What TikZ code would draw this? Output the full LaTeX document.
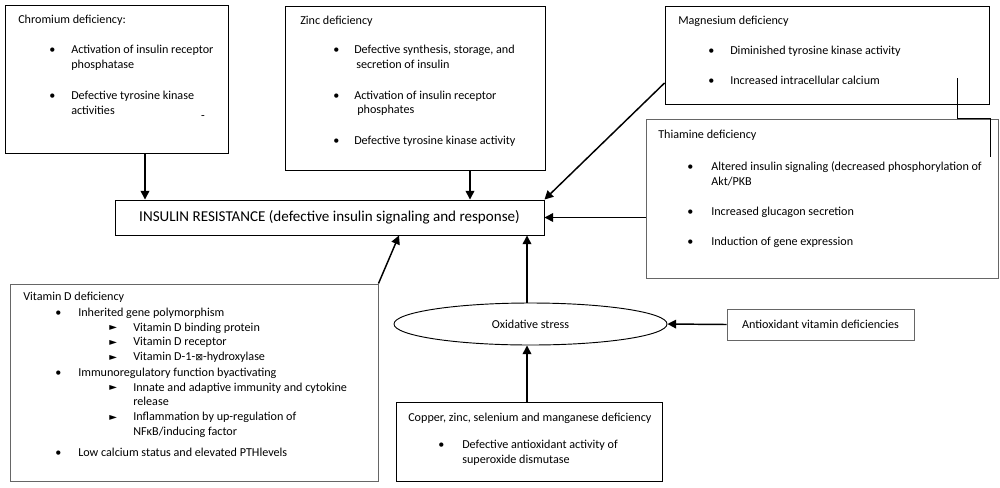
\documentclass[tikz,border=0pt]{standalone}
\usepackage{fontspec}
\setmainfont{Carlito}
\newfontfamily\trifont{DejaVu Sans}
\usetikzlibrary{shapes.geometric,arrows.meta,fit}
\newdimen\px \px=0.75pt
\newcommand{\tribullet}{{\trifont\fontsize{7.5}{8}\selectfont\raisebox{0.2pt}{►}}}
\newcommand{\boxhead}[2]{\multicolumn{#1}{@{}l@{}}{#2}}
\tikzset{
	box/.style={draw,inner sep=0pt,line width=0.7pt},
	greybox/.style={box,draw=black!60},
	txt/.style={anchor=base west,inner sep=0pt},
	arr/.style={-{Triangle[length=6.5pt,width=6.5pt]},line width=1.1pt}
}

\begin{document}
\begin{tikzpicture}
	[x=0.75pt, y=-0.75pt, font=\fontsize{9.1}{11}\selectfont]
	\useasboundingbox (0,0) rectangle (1000,487);
	% frames
	\node (chromium) [box, fit={(5,5) (228,153)}] {};
	\node (zinc) [box, fit={(285,6) (545,170)}] {};
	\node (magnesium) [box, fit={(665,6) (989,104)}] {};
	\node (thiamine) [greybox, fit={(646,119) (998,278)}] {};
	\node (vitd) [greybox, fit={(10,284) (378,481)}] {};
	\node (copper) [box, fit={(396,402) (662,481)}] {};
	\node (antiox) [greybox, fit={(727,309) (914,340)}] {};
	\node (insulin) [box, fit={(115,200) (544,235)}] {};
	\node (oxid) [ellipse, draw, line width=0.7pt, inner sep=0pt,
		minimum width=273\px, minimum height=42\px] at (530.5,324) {};
	% texts
	\node (antioxtxt) at (antiox.center) {Antioxidant vitamin deficiencies};
	\node (insulintxt) [font=\fontsize{11.3}{13}\selectfont] at (insulin.center)
		{INSULIN RESISTANCE (defective insulin signaling and response)};
	\node (oxidtxt) at (oxid.center) {Oxidative stress};
	\node (chrtxt) [txt] at (18,23) {\begin{tabular}[t]{@{\hspace{31\px}}p{22\px}@{}l@{}}
		\boxhead{2}{Chromium deficiency:}\\[16.3\px]
		\textbullet & Activation of insulin receptor\\
		& phosphatase\\[16.3\px]
		\textbullet & Defective tyrosine kinase\\
		& activities
	\end{tabular}};
	\node (chrdash) [inner sep=0pt] at (203,118) {-};
	\node (zinctxt) [txt] at (300,24) {\begin{tabular}[t]{@{\hspace{33\px}}p{21\px}@{}l@{}}
		\boxhead{2}{Zinc deficiency}\\[15\px]
		\textbullet & Defective synthesis, storage, and\\
		& \hspace{2\px}secretion of insulin\\[16.3\px]
		\textbullet & Activation of insulin receptor\\
		& \hspace{3\px}phosphates\\[16.3\px]
		\textbullet & Defective tyrosine kinase activity
	\end{tabular}};
	\node (mgtxt) [txt] at (678,24) {\begin{tabular}[t]{@{\hspace{30\px}}p{22\px}@{}l@{}}
		\boxhead{2}{Magnesium deficiency}\\[15.5\px]
		\textbullet & Diminished tyrosine kinase activity\\[15.5\px]
		\textbullet & Increased intracellular calcium
	\end{tabular}};
	\node (thtxt) [txt] at (658,138) {\begin{tabular}[t]{@{\hspace{29\px}}p{24\px}@{}l@{}}
		\boxhead{2}{Thiamine deficiency}\\[18.3\px]
		\textbullet & Altered insulin signaling (decreased phosphorylation of\\
		& Akt/PKB\\[15.3\px]
		\textbullet & Increased glucagon secretion\\[15.3\px]
		\textbullet & Induction of gene expression
	\end{tabular}};
	\node (vitdtxt) [txt] at (23,300) {\begin{tabular}[t]{@{\hspace{32\px}}p{23\px}@{}p{31\px}@{}p{24\px}@{}l@{}}
		\boxhead{4}{Vitamin D deficiency}\\[1.8\px]
		\textbullet & \boxhead{3}{Inherited gene polymorphism}\\
		& & \tribullet & Vitamin D binding protein\\
		& & \tribullet & Vitamin D receptor\\
		& & \tribullet & Vitamin D-1-{\trifont\fontsize{7}{8}\selectfont ⊠}-hydroxylase\\[1.3\px]
		\textbullet & \boxhead{3}{Immunoregulatory function byactivating}\\
		& & \tribullet & Innate and adaptive immunity and cytokine\\
		& & & release\\
		& & \tribullet & Inflammation by up-regulation of\\
		& & & NFκB/inducing factor\\[6.3\px]
		\textbullet & \boxhead{3}{Low calcium status and elevated PTHlevels}
	\end{tabular}};
	\node (cutxt) [txt] at (408,421) {\begin{tabular}[t]{@{\hspace{30\px}}p{24\px}@{}l@{}}
		\boxhead{2}{Copper, zinc, selenium and manganese deficiency}\\[12.8\px]
		\textbullet & Defective antioxidant activity of\\
		& superoxide dismutase
	\end{tabular}};
	% arrows
	\draw [arr] ([xshift=28.5\px]chromium.south) -- ([xshift=28.5\px]chromium.south |- insulin.north);
	\draw [arr] ([xshift=55\px]zinc.south) -- ([xshift=55\px]zinc.south |- insulin.north);
	\draw [arr] ([yshift=-28\px]magnesium.west) -- (insulin.north east);
	\draw [arr] (insulin.east -| thiamine.west) -- (insulin.east);
	\draw [arr] (vitd.north east) -- ([xshift=69.5\px]insulin.south);
	\draw [arr] ([xshift=-3.5\px]oxid.north) -- ([xshift=-3.5\px]oxid.north |- insulin.south);
	\draw [arr] ([xshift=-2\px]copper.north) -- ([xshift=-2\px]copper.north |- oxid.south);
	\draw [arr] (antiox.west) -- (oxid.east);
	\coordinate (mgend) at (957,78);
	\coordinate (thend) at (990,157);
	\draw [line width=0.7pt] (mgend) |- (thend |- thiamine.north) -- (thend);
\end{tikzpicture}
\end{document}
